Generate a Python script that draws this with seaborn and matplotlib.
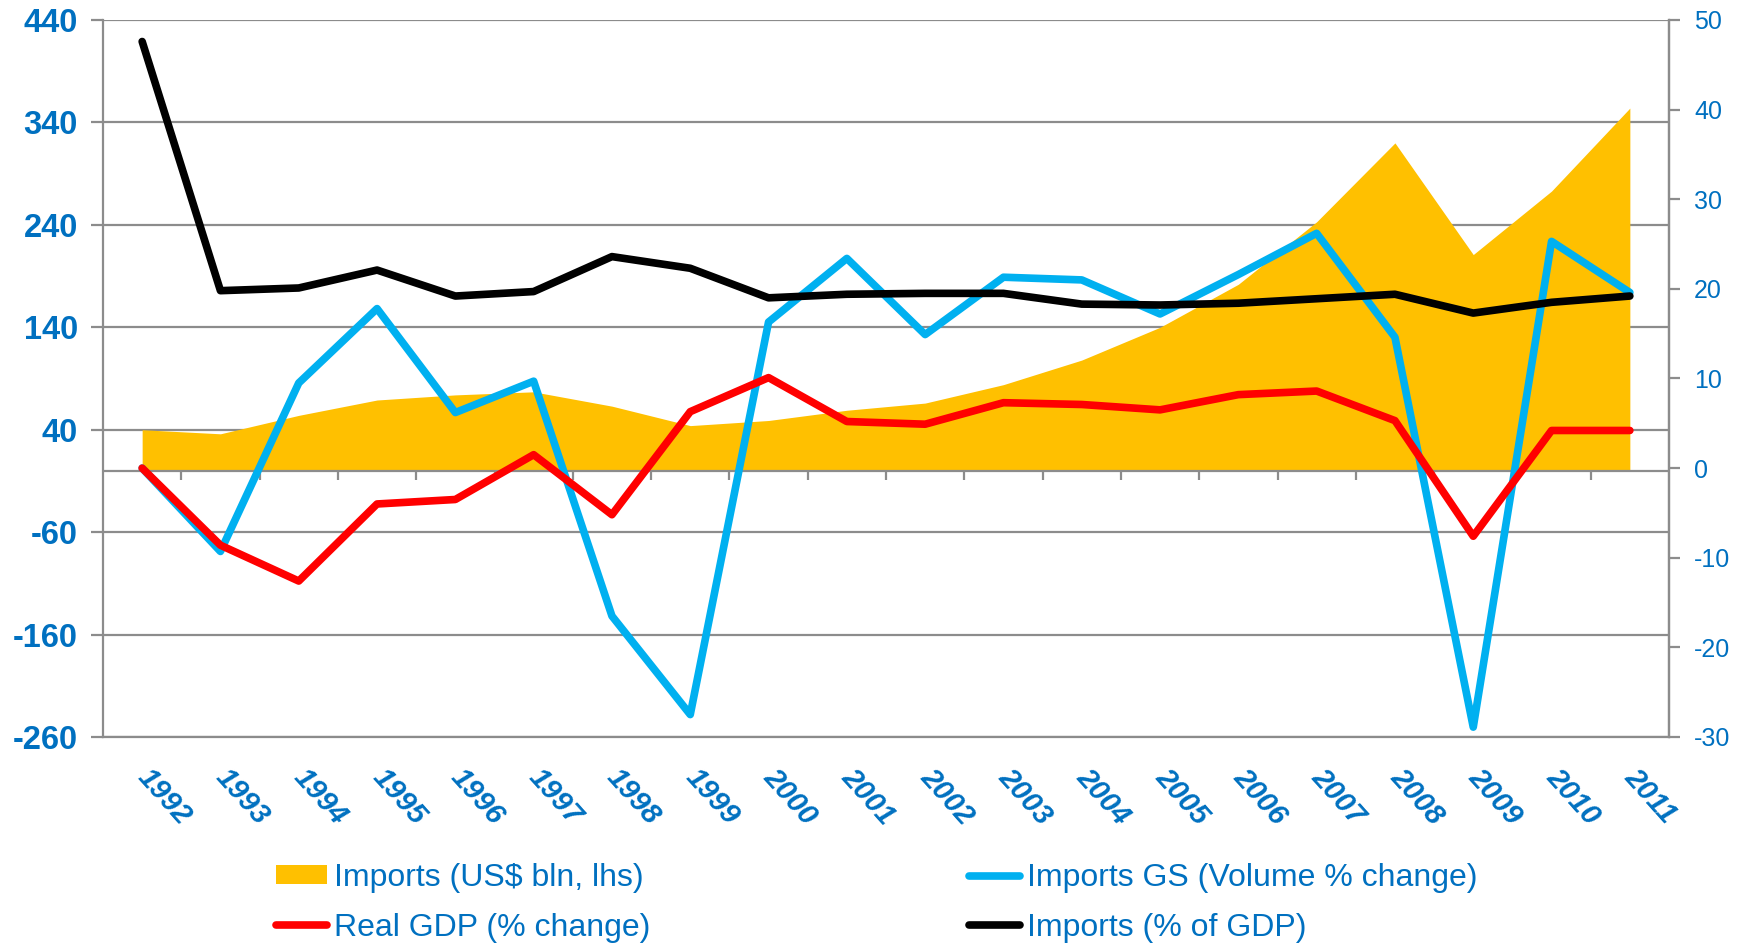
import numpy as np
import pandas as pd
import matplotlib
matplotlib.use("Agg")
import matplotlib.pyplot as plt
from matplotlib.patches import Patch
import seaborn as sns

# chart data
years = list(range(1992, 2012))
imports_usd = [40, 36, 54, 69, 74, 77, 63, 44, 49, 59, 66, 84, 108, 140, 182, 243, 320, 211, 273, 354]
imports_gs = [0.0, -9.3, 9.5, 17.8, 6.2, 9.7, -16.5, -27.5, 16.3, 23.4, 14.9, 21.3, 21.0, 17.2,
              21.6, 26.2, 14.6, -28.9, 25.3, 19.6]
real_gdp = [0.0, -8.6, -12.6, -4.0, -3.5, 1.5, -5.2, 6.3, 10.1, 5.2, 4.9, 7.3, 7.1, 6.5,
            8.2, 8.6, 5.3, -7.6, 4.2, 4.2]
imports_pct_gdp = [47.6, 19.8, 20.1, 22.1, 19.2, 19.7, 23.6, 22.3, 19.0, 19.4, 19.5, 19.5, 18.3, 18.2,
                   18.4, 18.9, 19.4, 17.3, 18.5, 19.2]

left_ticks = [-260, -160, -60, 40, 140, 240, 340, 440]
right_ticks = [-30, -20, -10, 0, 10, 20, 30, 40, 50]

area_label = "Imports (US$ bln, lhs)"
line_labels = ["Imports GS (Volume % change)", "Real GDP (% change)", "Imports (% of GDP)"]
line_colors = ["#00B0F0", "#FF0000", "#000000"]

BLUE_TXT = "#0070C0"
GRID = "#8C8C8C"

sns.set_style("white")
plt.rcParams["font.family"] = ["Liberation Sans", "DejaVu Sans"]
plt.rcParams["axes.unicode_minus"] = False

df = pd.DataFrame({
    "year": years * 3,
    "value": imports_gs + real_gdp + imports_pct_gdp,
    "series": [line_labels[0]] * 20 + [line_labels[1]] * 20 + [line_labels[2]] * 20,
})

fig = plt.figure(figsize=(17.48, 9.43), dpi=100)
ax = fig.add_axes([103 / 1748, 1 - 737 / 943, (1669 - 103) / 1748, (737 - 20) / 943])

# area on left axis
ax.fill_between(years, imports_usd, 0, color="#FFC000", lw=0, zorder=2)
ax.set_ylim(-260, 440)
ax.set_yticks(left_ticks)
ax.set_xlim(1991.5, 2011.5)
ax.grid(axis="y", color=GRID, lw=1.6)
ax.set_axisbelow(True)
ax.axhline(0, color=GRID, lw=1.6, zorder=3)
ax.vlines(np.arange(1992.5, 2011, 1), -9, 0, color=GRID, lw=1.6, zorder=3)

ax.spines["top"].set_visible(False)
for s in ["left", "right", "bottom"]:
    ax.spines[s].set_color(GRID)
    ax.spines[s].set_linewidth(1.6)

ax.tick_params(axis="y", direction="out", length=9, width=1.6, color=GRID, left=True,
               labelsize=23.5, labelcolor=BLUE_TXT, pad=9)
for t in ax.get_yticklabels():
    t.set_fontweight("bold")

ax.set_xticks(years)
ax.set_xticklabels([str(y) for y in years], rotation=-48, ha="left", va="center",
                   rotation_mode="anchor", fontsize=21, fontweight="bold",
                   fontstyle="italic", color=BLUE_TXT)
ax.tick_params(axis="x", length=0, pad=26)
ax.set_xlabel("")
ax.set_ylabel("")

# lines on right axis
ax2 = ax.twinx()
sns.lineplot(data=df, x="year", y="value", hue="series", hue_order=line_labels,
             palette=line_colors, ax=ax2, lw=5.5, legend=False,
             solid_capstyle="round", solid_joinstyle="round")
ax2.set_ylim(-30, 50)
ax2.set_yticks(right_ticks)
ax2.set_xlim(1991.5, 2011.5)
ax2.set_xlabel("")
ax2.set_ylabel("")
ax2.tick_params(axis="y", direction="out", length=8, width=1.6, color=GRID, right=True,
                labelsize=18, labelcolor=BLUE_TXT, pad=10)
for s in ["top", "left", "bottom"]:
    ax2.spines[s].set_visible(False)
ax2.spines["right"].set_color(GRID)
ax2.spines["right"].set_linewidth(1.6)

# legend
lines = ax2.get_lines()
handles = [Patch(facecolor="#FFC000", edgecolor="none"), lines[1], lines[0], lines[2]]
labels = [area_label, line_labels[1], line_labels[0], line_labels[2]]
leg = fig.legend(handles, labels, ncol=2, loc="upper left",
                 bbox_to_anchor=(276 / 1748, 1 - 863 / 943), frameon=False,
                 fontsize=23, handlelength=1.6, handleheight=0.55, handletextpad=0.2,
                 columnspacing=10.0, labelspacing=0.62, borderpad=0, borderaxespad=0)
for t in leg.get_texts():
    t.set_color(BLUE_TXT)

fig.savefig("out.png", dpi=100)
